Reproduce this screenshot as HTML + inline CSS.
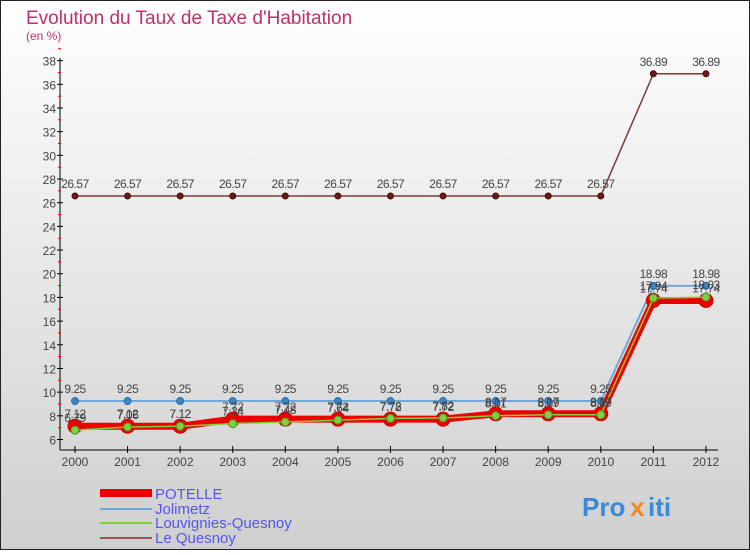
<!DOCTYPE html>
<html><head><meta charset="utf-8"><style>
body{margin:0;width:750px;height:550px;overflow:hidden;font-family:"Liberation Sans",sans-serif}
</style></head><body>
<svg width="750" height="550" xmlns="http://www.w3.org/2000/svg" id="svg">
<defs><linearGradient id="bg" x1="0" y1="0" x2="0" y2="1"><stop offset="0" stop-color="#ffffff"/><stop offset="1" stop-color="#cfcfcf"/></linearGradient></defs>
<rect x="0.5" y="0.5" width="749" height="549" fill="url(#bg)" stroke="#222"/>
<text x="26" y="24" font-size="19" fill="#c0306a">Evolution du Taux de Taxe d'Habitation</text>
<text x="26" y="40" font-size="12" fill="#c0306a">(en %)</text>
<g id="axes"></g><g id="series"></g><g id="labels"></g>
<g>
<rect x="100" y="489" width="52" height="8" fill="#ee0000"/>
<text x="155" y="499" font-size="15" fill="#5555ee">POTELLE</text>
<line x1="100" y1="509" x2="152" y2="509" stroke="#6fa8d8" stroke-width="2"/>
<text x="155" y="514" font-size="15" fill="#5555ee">Jolimetz</text>
<line x1="100" y1="523" x2="152" y2="523" stroke="#80d040" stroke-width="2"/>
<text x="155" y="528" font-size="15" fill="#5555ee">Louvignies-Quesnoy</text>
<line x1="100" y1="538" x2="152" y2="538" stroke="#995555" stroke-width="2"/>
<text x="155" y="543" font-size="15" fill="#5555ee">Le Quesnoy</text>
</g>
<g font-size="26" font-weight="bold">
<text x="582" y="516" fill="#3a8ad8">Pro</text><text x="630" y="516" fill="#f08a20">x</text><text x="648" y="516" fill="#3a8ad8">iti</text>
</g>
</svg>
<script>
const years=[2000,2001,2002,2003,2004,2005,2006,2007,2008,2009,2010,2011,2012];
const yTicks=[6,8,10,12,14,16,18,20,22,24,26,28,30,32,34,36,38];
const potelle=[7.12,7.12,7.12,7.72,7.72,7.72,7.72,7.72,8.17,8.17,8.17,17.74,17.74];
const jolimetz=[9.25,9.25,9.25,9.25,9.25,9.25,9.25,9.25,9.25,9.25,9.25,18.98,18.98];
const louvignies=[6.79,7.06,7.12,7.34,7.48,7.64,7.78,7.82,8.01,8.09,8.09,17.94,18.03];
const lequesnoy=[26.57,26.57,26.57,26.57,26.57,26.57,26.57,26.57,26.57,26.57,26.57,36.89,36.89];
const NS="http://www.w3.org/2000/svg";
const X=i=>75+i*52.58, Y=v=>439.5-(v-6)*11.84;
function mk(p,t,a){const e=document.createElementNS(NS,t);for(const k in a)e.setAttribute(k,a[k]);p.appendChild(e);return e;}
const ax=document.getElementById('axes'),sg=document.getElementById('series'),lg=document.getElementById('labels');
let e=mk(ax,'line',{x1:60,y1:58,x2:60,y2:450,stroke:'#000'});

e=mk(ax,'line',{x1:60,y1:450,x2:718,y2:450,stroke:'#000'});

yTicks.forEach(v=>{mk(ax,'line',{x1:57,y1:Y(v),x2:63,y2:Y(v),stroke:'#000'});
 mk(ax,'line',{x1:58,y1:Y(v+1),x2:61,y2:Y(v+1),stroke:'#e00'});
 const t=mk(ax,'text',{x:56,y:Y(v)+5,'font-size':12,fill:'#444','text-anchor':'end'});t.textContent=v;
 });
years.forEach((yr,i)=>{mk(ax,'line',{x1:X(i),y1:446,x2:X(i),y2:453,stroke:'#000'});
 const t=mk(ax,'text',{x:X(i),y:466,'font-size':12,fill:'#444','text-anchor':'middle'});t.textContent=yr;
 });
function series(d,name,lc,lw,dr,df,ds){
 const pts=d.map((v,i)=>X(i)+','+Y(v)).join(' ');
 const l=mk(sg,'polyline',{points:pts,fill:'none',stroke:lc,'stroke-width':lw,'stroke-linejoin':'round'});
 
 d.forEach((v,i)=>{const c=mk(sg,'circle',{cx:X(i),cy:Y(v),r:dr,fill:df,stroke:ds,'stroke-width':1});
  
  const t=mk(lg,'text',{x:X(i),y:Y(v)-8,'font-size':12,fill:'#444','text-anchor':'middle','letter-spacing':'-0.5'});t.textContent=v;
  });
}
series(lequesnoy,'le-quesnoy','#7a3a3a',1.5,3,'#6a1a1a','#4a0a0a');
series(jolimetz,'jolimetz','#6fa8d8',2,3.5,'#3a88c8','#2a6aa8');
series(potelle,'potelle','#ee0000',7,7,'#ee0000','#cc0000');
series(louvignies,'louvignies','#80d040',1.5,4,'#80d040','#509020');
</script>
</body></html>
